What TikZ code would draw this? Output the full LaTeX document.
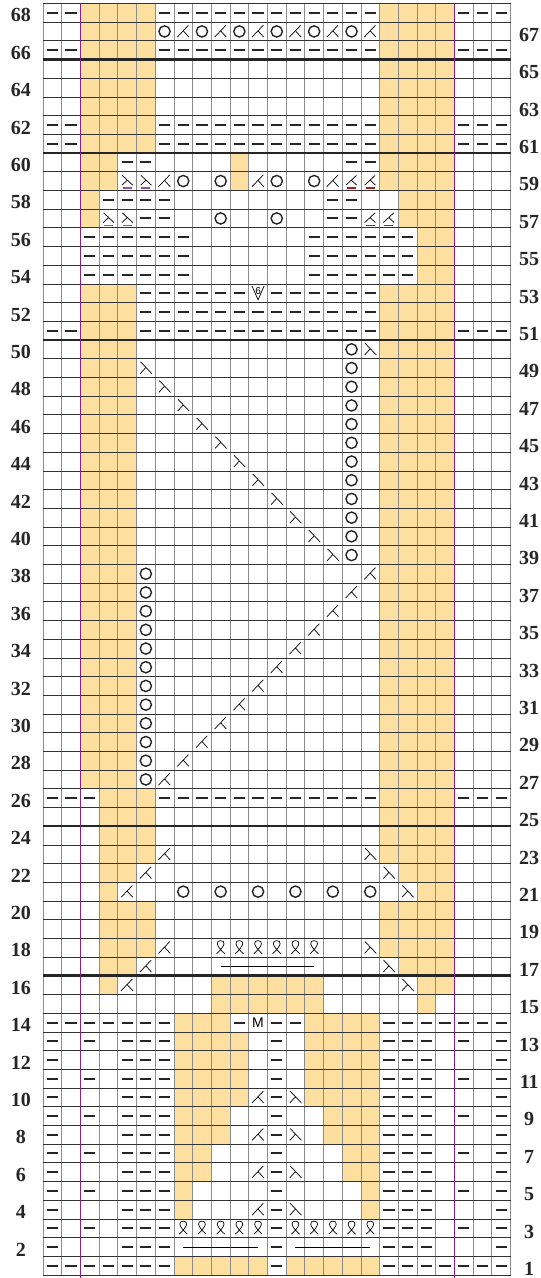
\documentclass[tikz,border=0pt]{standalone}
\usepackage{fontspec}
\setmainfont{Liberation Serif}
\setsansfont{Liberation Sans}
\usetikzlibrary{positioning}

\definecolor{chartyellow}{RGB}{253,223,160}
\definecolor{chartpurple}{RGB}{140,30,140}
\definecolor{lilac}{RGB}{150,80,175}
\definecolor{darkred}{RGB}{165,30,35}

\begin{document}
\begin{tikzpicture}[x=18.7pt,y=18.7pt,
  hline/.style={line width=0.6pt,black!80},
  vline/.style={line width=0.8pt,black!45},
  thickrule/.style={line width=2.6pt,black!85},
  purplerule/.style={line width=1.5pt,chartpurple},
  purlbar/.style={line width=2pt,black!85},
  yoring/.style={line width=1.4pt,black!85},
  dec/.style={line width=0.7pt,black},
  rowno/.style={font=\fontsize{20}{20}\selectfont\bfseries,text=black!85,inner sep=0pt},
  pics/purl/.style={code={\draw[purlbar] (-0.3,0) -- (0.3,0);}},
  pics/yo/.style={code={\draw[yoring] (0,0) circle (0.3);}},
  pics/ktog/.style={code={\draw[dec] (0.28,0.33) -- (-0.32,-0.3) (0,0.03) -- (0.3,-0.3);}},
  pics/sskd/.style={code={\draw[dec] (-0.28,0.33) -- (0.32,-0.3) (0,0.03) -- (-0.3,-0.3);}},
  pics/twist/.style={code={\draw[dec] (-0.22,-0.32) .. controls (0.3,0.15) and (0.25,0.38) .. (0,0.38) .. controls (-0.25,0.38) and (-0.3,0.15) .. (0.22,-0.32);}},
  pics/sskbar/.style={code={\draw[dec] (-0.26,0.3) -- (0.3,-0.22) (0,0.04) -- (-0.28,-0.22);
      \draw[line width=1.5pt,lilac] (-0.24,-0.38) -- (0.24,-0.38);}},
  pics/ktogbar/.style={code={\draw[dec] (0.26,0.3) -- (-0.3,-0.22) (0,0.04) -- (0.28,-0.22);
      \draw[line width=1.5pt,darkred] (-0.24,-0.38) -- (0.24,-0.38);}}
]
  \useasboundingbox (-2.2995,-0.1604) rectangle (26.578,68.182);

  % Contrast colour blocks
  \foreach \a/\b/\c/\d in {2/60/6/68, 18/60/22/68,
      2/58/4/60, 10/58/11/60, 18/58/22/60,
      2/56/3/58, 19/56/22/58, 20/53/22/56,
      2/26/5/53, 18/26/22/53,
      3/22/6/26, 18/22/22/26, 3/21/5/22, 19/21/22/22,
      3/20/4/21, 20/20/22/21, 3/17/6/20, 18/17/22/20,
      3/16/5/17, 19/16/22/17, 3/15/4/16, 9/14/15/16, 20/15/22/16,
      20/14/21/15, 7/13/10/14, 14/13/18/14,
      7/9/11/13, 14/9/18/13, 7/7/10/9, 15/7/18/9,
      7/5/9/7, 16/5/18/7, 7/3/8/5, 17/3/18/5,
      7/0/12/1, 13/0/18/1}
    \fill[chartyellow] (\a,\b) rectangle (\c,\d);

  % Grid
  \foreach \c in {0,...,25}
    \draw[vline] (\c,0) -- (\c,68);
  \foreach \r in {0,...,68}
    \draw[hline] (0,\r) -- (25,\r);
  \foreach \r in {65,60,50,24,16}
    \draw[thickrule] (0,\r) -- (25,\r);
  \foreach \c in {2,22}
    \draw[purplerule] (\c,-0.15) -- (\c,68);

  % Purl stitches
  \foreach \r in {68,66,62,61}
    \foreach \c in {1,2,7,8,9,10,11,12,13,14,15,16,17,18,23,24,25}
      \pic at (\c-0.5,\r-0.5) {purl};
  \foreach \r in {13,11,9,7,5,3}
    \foreach \c in {1,3,5,6,7,13,19,20,21,23,25}
      \pic at (\c-0.5,\r-0.5) {purl};
  \foreach \r in {12,10,8,6,4,2}
    \foreach \c in {1,5,6,7,13,19,20,21,25}
      \pic at (\c-0.5,\r-0.5) {purl};
  \foreach \r in {56,55,54}
    \foreach \c in {3,4,5,6,7,8,15,16,17,18,19,20}
      \pic at (\c-0.5,\r-0.5) {purl};
  \foreach \r/\cols in {60/{5,6,17,18}, 58/{4,5,6,7,16,17}, 57/{6,7,16,17},
      53/{6,7,8,9,10,11,13,14,15,16,17,18}, 52/{6,...,18},
      51/{1,2,6,7,8,9,10,11,12,13,14,15,16,17,18,23,24,25},
      26/{1,2,3,7,8,9,10,11,12,13,14,15,16,17,18,23,24,25},
      14/{1,2,3,4,5,6,7,11,13,14,19,20,21,22,23,24,25},
      1/{1,2,3,4,5,6,7,13,19,20,21,22,23,24,25}}
    \foreach \c in \cols
      \pic at (\c-0.5,\r-0.5) {purl};

  % Yarn overs
  \foreach \r/\cols in {67/{7,9,...,17}, 59/{8,10,13,15}, 57/{10,13}, 21/{8,10,...,18}}
    \foreach \c in \cols
      \pic at (\c-0.5,\r-0.5) {yo};
  \foreach \r in {39,...,50}
    \pic at (16.5,\r-0.5) {yo};
  \foreach \r in {27,...,38}
    \pic at (5.5,\r-0.5) {yo};

  % Decreases
  \foreach \r/\cols in {67/{8,10,...,18}, 59/{7,12,16}, 23/{7}, 22/{6}, 21/{5},
      18/{7}, 17/{6}, 16/{5}, 10/{12}, 8/{12}, 6/{12}, 4/{12}}
    \foreach \c in \cols
      \pic at (\c-0.5,\r-0.5) {ktog};
  \foreach \r in {27,...,38}
    \pic at (\r-20.5,\r-0.5) {ktog};
  \foreach \r/\cols in {50/{18}, 23/{18}, 22/{19}, 21/{20}, 18/{18}, 17/{19}, 16/{20},
      10/{14}, 8/{14}, 6/{14}, 4/{14}}
    \foreach \c in \cols
      \pic at (\c-0.5,\r-0.5) {sskd};
  \foreach \r in {39,...,49}
    \pic at (54.5-\r,\r-0.5) {sskd};
  \foreach \r/\c in {59/5, 59/6, 57/4, 57/5}
    \pic at (\c-0.5,\r-0.5) {sskbar};
  \foreach \r/\c in {59/17, 59/18, 57/18, 57/19}
    \pic at (\c-0.5,\r-0.5) {ktogbar};

  % Twisted stitches
  \foreach \r/\cols in {18/{10,...,15}, 3/{8,9,10,11,12,14,15,16,17,18}}
    \foreach \c in \cols
      \pic at (\c-0.5,\r-0.5) {twist};
  \coordinate (tw17a) at (9.5,16.5);
  \coordinate (tw17b) at (14.5,16.5);
  \coordinate (tw2a) at (7.5,1.5);
  \coordinate (tw2b) at (11.5,1.5);
  \coordinate (tw2c) at (13.5,1.5);
  \coordinate (tw2d) at (17.5,1.5);
  \draw[dec] (tw17a) -- (tw17b);
  \draw[dec] (tw2a) -- (tw2b);
  \draw[dec] (tw2c) -- (tw2d);

  % Single marks
  \node[font=\sffamily\fontsize{14}{14}\selectfont,inner sep=0pt] (mark) at (11.5,13.5) {M};
  \draw[dec] (11.18,52.88) -- (11.5,52.15) -- (11.82,52.88);
  \node[font=\sffamily\fontsize{10}{10}\selectfont,inner sep=0pt] (six) at (11.5,52.6) {6};

  % Row numbers
  \foreach \r in {2,4,...,68}
    \node[rowno] (left\r) at (-1.18,\r-0.64) {\r};
  \foreach \r in {1,3,...,67}
    \node[rowno] (right\r) at (26.0,\r-0.68) {\r};
\end{tikzpicture}
\end{document}
